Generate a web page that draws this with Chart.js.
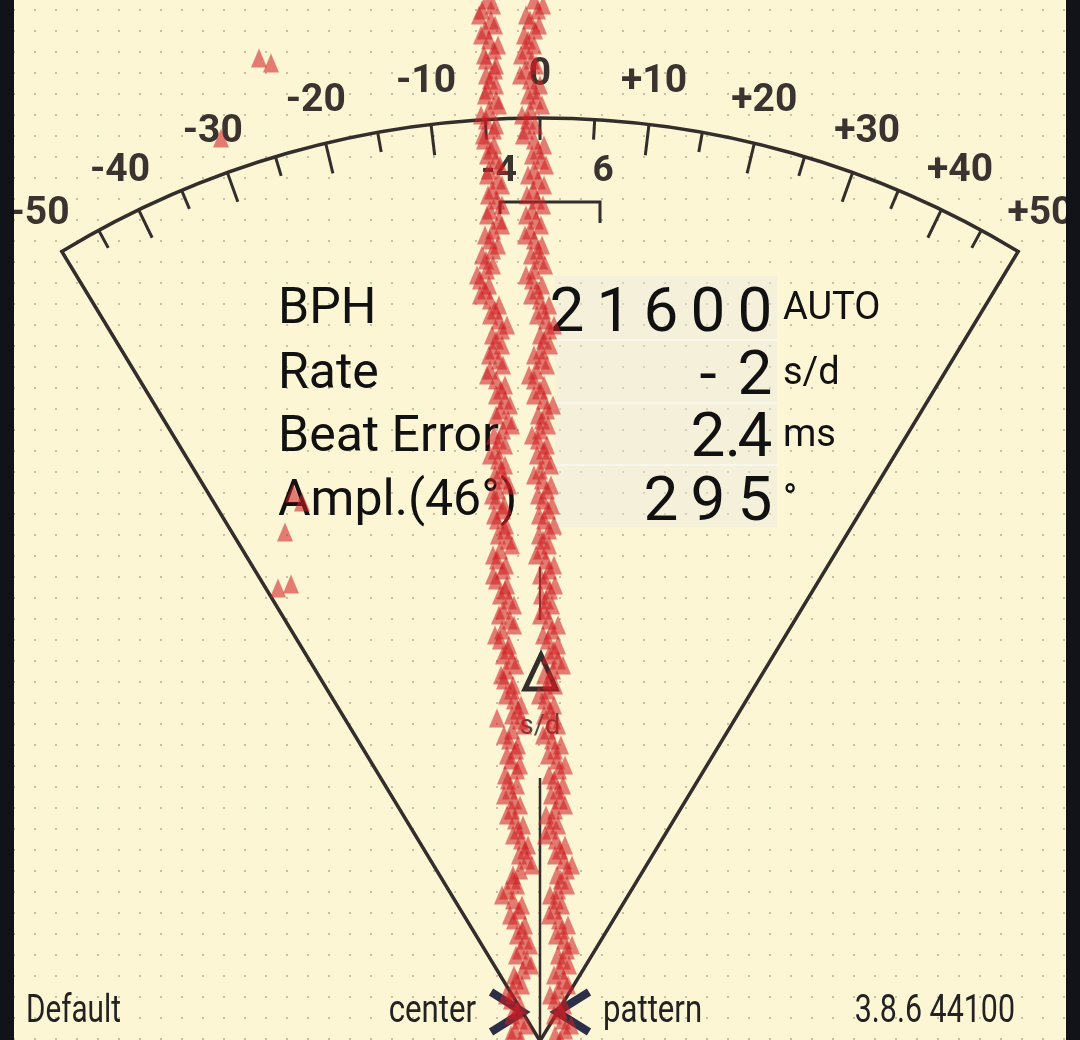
<!DOCTYPE html>
<html lang="en">
<head>
<meta charset="UTF-8">
<title>Timegrapher trace</title>
<script src="https://cdn.jsdelivr.net/npm/chart.js@4.4.0/dist/chart.umd.min.js"></script>
<style>
  html, body { margin: 0; padding: 0; background: #fdf6d5; overflow: hidden; }
  canvas { display: block; }
</style>
</head>
<body>
<canvas id="trace" width="1080" height="1040"></canvas>
<script>
// horizontal offset of each beat, one row per beat, oldest at the top
const tickOffsets = [
  -53,-58,-49,-55,-51,-46,-54,-45,-50,-53,
  -44,-51,-54,-46,-56,-49,-44,-51,-42,-48,
  -43,-50,-41,-47,-50,-47,-54,-53,-60,-55,
  -50,-45,-41,-38,-44,-47,-41,-50,-44,-39,
  -35,-40,-32,-37,-41,-44,-42,-39,-36,-42,
  -44,-37,-43,-35,-32,-40,-43,-37,-44,-35,
  -31,-37,-30,-38,-40,-32,-28,-34,-36,-28,
  -26,-22,-20,-28,-31,-24,-29,-23,-32,-30,
  -26,-28,-25,-22,-19,-15,-13,-20,-27,-33,
  -27,-21,-26,-18,-15,-20,-13,-17,-24,-27,
  -29,-23,-20,-25,-19
];
// beats that fall half a row later
const tickOffsetsMid = [
  -47,-61,-45,-59,-42,-56,-44,-54,-44,-55,
  -41,-59,-44,-57,-46,-53,-40,-53,-38,-52,
  -38,-53,-38,-55,-42,-58,-47,-63,-51,-60,
  -41,-50,-33,-48,-38,-51,-37,-53,-35,-44,
  -30,-44,-28,-46,-35,-50,-35,-45,-31,-48,
  -36,-46,-34,-42,-28,-47,-34,-47,-33,-40,
  -26,-41,-26,-45,-31,-37,-24,-39,-27,-34,
  -19,-28,-16,-36,-22,-33,-20,-35,-23,-36,
  -20,-33,-17,-27,-12,-21,-8,-27,-23,-38,
  -18,-30,-15,-23,-10,-24,-9,-26,-18,-34,
  -20,-28,-14,-29
];
const tockOffsets = [
  -6,-2,-10,-5,-12,-14,-8,-15,-10,-6,
  -4,-10,-12,-14,-6,-2,1,-6,-2,-7,
  -3,-8,-4,-10,-6,-2,0,-6,-8,-3,
  0,3,6,9,4,1,2,-4,-6,0,
  4,7,2,0,-2,4,6,0,2,7,
  3,8,4,9,3,1,6,9,5,10,
  6,4,9,12,8,14,18,13,9,7,
  5,10,13,8,12,15,17,19,14,18,
  20,15,12,10,16,20,24,27,21,18,
  16,14,19,22,24,27,23,20,24,18,
  15,20,23,25,20
];
const tockOffsetsMid = [
  3,-14,-1,-16,-6,-19,-4,-20,0,-12,
  2,-18,-5,-17,4,-8,6,-12,4,-13,
  3,-14,1,-15,2,-9,5,-14,2,-9,
  9,-3,14,0,10,-6,7,-11,4,-6,
  13,-2,8,-8,7,-3,11,-6,11,-2,
  12,-1,14,-1,9,-4,14,0,15,1,
  12,0,18,3,18,9,23,4,15,-1,
  14,4,18,3,21,8,25,9,23,11,
  25,6,18,5,25,15,32,17,27,10,
  22,9,28,16,32,18,29,14,28,10,
  24,14,31,15
];
// stray beats away from the two traces
const strayOffsets = [-281, -269, -319, -247, -238, -255, -262, -249, -43];
const strayBeats   = [5.8, 6.3, 13.8, 49.3, 50.2, 53.2, 58.8, 58.4, 71.8];

// dial scale (s/d)
const dialLabelValues = [-50, -40, -30, -20, -10, 0, 10, 20, 30, 40, 50];
const dialLabels = ['-50', '-40', '-30', '-20', '-10', '0', '+10', '+20', '+30', '+40', '+50'];
const dialTickValues = [-45, -40, -35, -30, -25, -20, -15, -10, -5, 0, 5, 10, 15, 20, 25, 30, 35, 40, 45];

// readout
const readoutNames = ['BPH', 'Rate', 'Beat Error', 'Ampl.(46°)'];
const readoutValues = ['21600', '-2', '2.4', '295'];
const readoutUnits = ['AUTO', 's/d', 'ms', '°'];

const INK = '#332e2b';
const GAUGE_R = 923;

function dialAngle(v) {
  return (0.6803 * v - 0.0000225 * v * v * v) * Math.PI / 180;
}

function narrowText(ctx, text, x, y, align, squeeze) {
  ctx.save();
  ctx.translate(x, y);
  ctx.scale(squeeze, 1);
  ctx.textAlign = align;
  ctx.fillText(text, 0, 0);
  ctx.restore();
}

// beat marker: a slightly tall triangle
function makeMarker() {
  const c = document.createElement('canvas');
  c.width = 18;
  c.height = 21;
  const g = c.getContext('2d');
  g.fillStyle = 'rgba(205,30,35,0.57)';
  g.beginPath();
  g.moveTo(9, 1); g.lineTo(17, 20); g.lineTo(1, 20);
  g.closePath();
  g.fill();
  return c;
}

const backdrop = {
  id: 'backdrop',
  beforeDraw(chart) {
    const ctx = chart.ctx;
    const { width, height } = chart;
    ctx.save();
    ctx.fillStyle = '#fdf6d5';
    ctx.fillRect(0, 0, width, height);
    // dotted paper
    ctx.fillStyle = 'rgba(120,110,90,0.4)';
    for (let x = 14; x < 1066; x += 21) {
      for (let y = 10; y < height; y += 21) {
        ctx.fillRect(x - 1, y - 1, 2, 2);
      }
    }
    // readout panel
    ctx.fillStyle = 'rgba(232,232,224,0.45)';
    ctx.fillRect(555, 276, 222, 251);
    ctx.strokeStyle = 'rgba(255,255,255,0.45)';
    ctx.lineWidth = 2;
    [340, 403, 465].forEach(y => {
      ctx.beginPath(); ctx.moveTo(555, y); ctx.lineTo(777, y); ctx.stroke();
    });
    ctx.restore();
  }
};

const dial = {
  id: 'dial',
  beforeDatasetsDraw(chart) {
    const ctx = chart.ctx;
    const cx = chart.scales.x.getPixelForValue(0);
    const cy = chart.chartArea.bottom + 1;
    const end = dialAngle(50);
    const pt = (v, r) => [cx + r * Math.sin(dialAngle(v)), cy - r * Math.cos(dialAngle(v))];

    ctx.save();
    ctx.strokeStyle = INK;
    ctx.lineCap = 'butt';
    ctx.lineWidth = 3.5;
    // sector outline
    ctx.beginPath();
    ctx.moveTo(cx, cy);
    ctx.lineTo(...pt(-50, GAUGE_R));
    ctx.arc(cx, cy, GAUGE_R, -Math.PI / 2 - end, -Math.PI / 2 + end);
    ctx.closePath();
    ctx.stroke();

    // ticks
    ctx.lineWidth = 3;
    dialTickValues.forEach(v => {
      const len = (v !== 0 && v % 10 === 0) ? 31 : (v === 0 ? 22 : 20);
      ctx.beginPath();
      ctx.moveTo(...pt(v, GAUGE_R));
      ctx.lineTo(...pt(v, GAUGE_R - len));
      ctx.stroke();
    });

    // scale labels
    ctx.fillStyle = '#3a3330';
    ctx.font = 'bold 39px Roboto';
    ctx.textAlign = 'center';
    ctx.textBaseline = 'middle';
    dialLabelValues.forEach((v, i) => {
      const [x, y] = pt(v, 966);
      ctx.fillText(dialLabels[i], x, y);
    });

    // beat error bracket
    ctx.font = 'bold 37px Roboto';
    ctx.fillText('-4', 499, 172);
    ctx.fillText('6', 603, 172);
    ctx.lineWidth = 3;
    ctx.beginPath();
    ctx.moveTo(500, 214); ctx.lineTo(500, 202); ctx.lineTo(600, 202); ctx.lineTo(600, 223);
    ctx.stroke();

    // centre marks
    ctx.lineWidth = 2;
    ctx.strokeStyle = '#4a4440';
    ctx.beginPath(); ctx.moveTo(cx, 567); ctx.lineTo(cx, 620); ctx.stroke();
    ctx.lineWidth = 2.5;
    ctx.strokeStyle = INK;
    ctx.beginPath(); ctx.moveTo(cx, 778); ctx.lineTo(cx, cy); ctx.stroke();

    ctx.lineWidth = 5;
    ctx.lineJoin = 'miter';
    ctx.beginPath();
    ctx.moveTo(cx + 1, 655); ctx.lineTo(cx + 16, 689); ctx.lineTo(cx - 15, 689); ctx.closePath();
    ctx.stroke();
    ctx.fillStyle = '#4d4844';
    ctx.font = '27px Roboto';
    ctx.fillText('s/d', cx, 727);

    // readout
    ctx.textBaseline = 'alphabetic';
    ctx.fillStyle = '#111';
    ctx.textAlign = 'left';
    ctx.font = '50px Roboto';
    const nameBase = [323, 388, 451, 515];
    readoutNames.forEach((t, i) => ctx.fillText(t, 278, nameBase[i]));

    ctx.font = '62px Roboto';
    ctx.textAlign = 'center';
    const valueBase = [331, 394, 456, 520];
    readoutValues.forEach((s, i) => {
      let c = 755;
      for (let k = s.length - 1; k >= 0; k--) {
        const ch = s[k];
        if (ch === '.') { ctx.fillText(ch, c + 25, valueBase[i]); continue; }
        ctx.fillText(ch, c, valueBase[i]);
        c -= 47;
      }
    });

    ctx.textAlign = 'left';
    ctx.font = '38px Roboto';
    const unitBase = [319, 384, 446, 511];
    readoutUnits.forEach((t, i) => ctx.fillText(t, 783, unitBase[i]));

    // footer
    ctx.fillStyle = '#222';
    ctx.font = '38px Roboto';
    narrowText(ctx, 'Default', 26, 1022, 'left', 0.78);
    narrowText(ctx, 'center', 476, 1022, 'right', 0.82);
    narrowText(ctx, 'pattern', 603, 1022, 'left', 0.82);
    narrowText(ctx, '3.8.6 44100', 1015, 1022, 'right', 0.8);

    ctx.strokeStyle = '#2d2f48';
    ctx.lineWidth = 8;
    ctx.lineJoin = 'miter';
    ctx.beginPath(); ctx.moveTo(491, 992); ctx.lineTo(523, 1012); ctx.lineTo(491, 1032); ctx.stroke();
    ctx.beginPath(); ctx.moveTo(589, 992); ctx.lineTo(557, 1012); ctx.lineTo(589, 1032); ctx.stroke();
    ctx.restore();
  },
  afterDraw(chart) {
    const ctx = chart.ctx;
    ctx.save();
    ctx.fillStyle = '#111318';
    ctx.fillRect(0, 0, 14, chart.height);
    ctx.fillRect(1066, 0, chart.width - 1066, chart.height);
    ctx.restore();
  }
};

const marker = makeMarker();
const pointStyle = {
  pointStyle: marker,
  pointRadius: 10,
  borderWidth: 0
};

function rows(offsets, shift) {
  return offsets.map((x, i) => ({ x: x, y: i + shift }));
}

new Chart(document.getElementById('trace'), {
  type: 'scatter',
  data: {
    datasets: [
      Object.assign({ label: 'tick', data: rows(tickOffsets, 0).concat(rows(tickOffsetsMid, 0.5)) }, pointStyle),
      Object.assign({ label: 'tock', data: rows(tockOffsets, 0).concat(rows(tockOffsetsMid, 0.5)) }, pointStyle),
      Object.assign({ label: 'stray', data: strayOffsets.map((x, i) => ({ x: x, y: strayBeats[i] })) }, pointStyle)
    ]
  },
  options: {
    responsive: false,
    animation: false,
    devicePixelRatio: 1,
    events: [],
    layout: { padding: 0, autoPadding: false },
    plugins: { legend: { display: false }, tooltip: { enabled: false } },
    scales: {
      x: { type: 'linear', display: false, min: -540, max: 540 },
      y: { type: 'linear', display: false, min: 0, max: 104, reverse: true }
    }
  },
  plugins: [backdrop, dial]
});
</script>
</body>
</html>
